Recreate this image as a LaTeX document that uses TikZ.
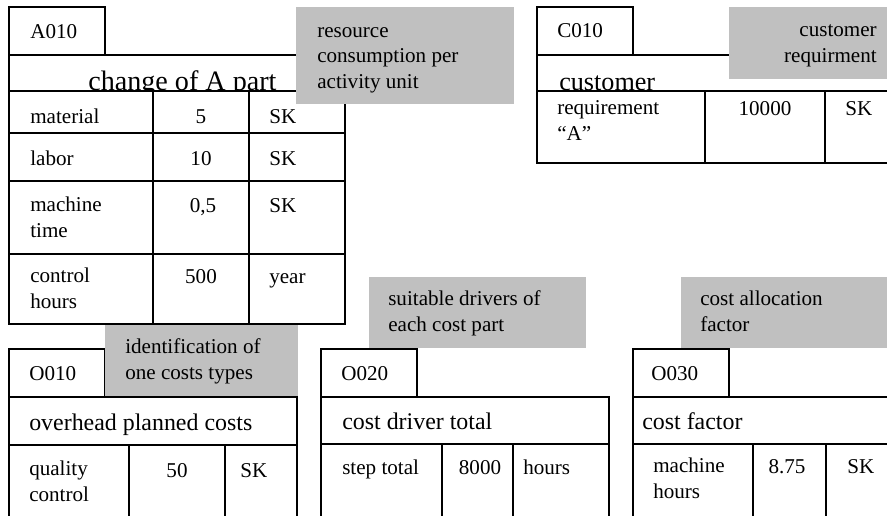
\documentclass[tikz,border=0pt]{standalone}
\usepackage{fontspec}
\setmainfont{Liberation Serif}
\usepackage{tikz}

\definecolor{notegray}{RGB}{192,192,192}

\begin{document}
\begin{tikzpicture}[x=0.025cm, y=-0.025cm,
    box/.style={draw, line width=1.3pt, fill=white},
    grid/.style={line width=1.3pt},
    txt/.style={anchor=base west, inner sep=0pt, align=left, font=\fontsize{15}{17.8}\selectfont},
    num/.style={anchor=base, inner sep=0pt, font=\fontsize{15}{17.8}\selectfont},
    head/.style={anchor=base west, inner sep=0pt, font=\fontsize{17}{20}\selectfont},
    bighead/.style={anchor=base west, inner sep=0pt, font=\fontsize{20}{24}\selectfont}]

\useasboundingbox (0,0) rectangle (887,515);
\clip (0,0) rectangle (887,515);

% A010 - change of A part
\draw[box] (9,7) rectangle (105,55) (9,55) rectangle (345,91);
\node[txt] (a010) at (30,38) {A010};
\node[bighead] (atitle) at (88,90) {change of A part};
\draw[box] (9,91) rectangle (345,324);
\draw[grid]
    (9,133) -- (345,133)
    (9,181) -- (345,181)
    (9,254) -- (345,254)
    (153,91) -- (153,324)
    (249,91) -- (249,324);
% multi-line texts sit on their last line
\node[txt] (mat) at (30,123) {material};
\node[num] (matval) at (201,123) {5};
\node[txt] (matunit) at (269,123) {SK};
\node[txt] (lab) at (30,165) {labor};
\node[num] (labval) at (201,165) {10};
\node[txt] (labunit) at (269,165) {SK};
\node[txt] (mach) at (30,237) {machine\\time};
\node[num] (machval) at (203,212) {0,5};
\node[txt] (machunit) at (269,212) {SK};
\node[txt] (ctrl) at (30,308) {control\\hours};
\node[num] (ctrlval) at (201,283) {500};
\node[txt] (ctrlunit) at (269,283) {year};

% C010 - customer
\draw[box] (537,7) rectangle (633,55) (537,55) rectangle (900,91);
\node[txt] (c010) at (557,37) {C010};
\node[bighead, font=\fontsize{18.6}{22}\selectfont] (ctitle) at (559,90) {customer};
\draw[box] (537,91) rectangle (900,163);
\draw[grid]
    (705,91) -- (705,163)
    (825,91) -- (825,163);
\node[txt] (req) at (557,140) {requirement\\``A''};
\node[num] (reqval) at (765,115) {10000};
\node[txt] (requnit) at (845,115) {SK};

% O010 - overhead planned costs
\draw[box] (9,349) rectangle (105,397) (9,397) rectangle (297,445);
\node[txt] (o010) at (29,380) {O010};
\node[head] (otitle) at (29,430) {overhead planned costs};
\draw[box] (9,445) rectangle (297,530);
\draw[grid]
    (129,445) -- (129,530)
    (225,445) -- (225,530);
\node[txt] (qual) at (29,501) {quality\\control};
\node[num] (qualval) at (177,477) {50};
\node[txt] (qualunit) at (240,477) {SK};

% O020 - cost driver total
\draw[box] (321,349) rectangle (417,397) (321,397) rectangle (609,444);
\node[txt] (o020) at (341,380) {O020};
\node[head] (dtitle) at (342,429) {cost driver total};
\draw[box] (321,444) rectangle (609,530);
\draw[grid]
    (442,444) -- (442,530)
    (513,444) -- (513,530);
\node[txt] (steps) at (342,474) {step total};
\node[num] (stepsval) at (480,474) {8000};
\node[txt] (stepsunit) at (523,474) {hours};

% O030 - cost factor
\draw[box] (633,349) rectangle (729,397) (633,397) rectangle (900,444);
\node[txt] (o030) at (651,380) {O030};
\node[head] (ftitle) at (642,429) {cost factor};
\draw[box] (633,444) rectangle (900,530);
\draw[grid]
    (753,444) -- (753,530)
    (826,444) -- (826,530);
\node[txt] (mhours) at (653,498) {machine\\hours};
\node[num] (mhoursval) at (787,473) {8.75};
\node[txt] (mhoursunit) at (847,473) {SK};

% grey notes
\fill[notegray] (296,7) rectangle (514,104);
\node[txt] (resnote) at (317,88) {resource\\consumption per\\activity unit};
\fill[notegray] (729,7) rectangle (900,79);
\node[txt, anchor=base east, align=right] (custnote) at (877,62) {customer\\requirment};
\fill[notegray] (105,325) rectangle (298,396);
\node[txt] (idnote) at (125,379) {identification of\\one costs types};
\fill[notegray] (369,277) rectangle (586,348);
\node[txt] (drvnote) at (388,331) {suitable drivers of\\each cost part};
\fill[notegray] (681,277) rectangle (900,348);
\node[txt] (facnote) at (700,331) {cost allocation\\factor};
\end{tikzpicture}
\end{document}
